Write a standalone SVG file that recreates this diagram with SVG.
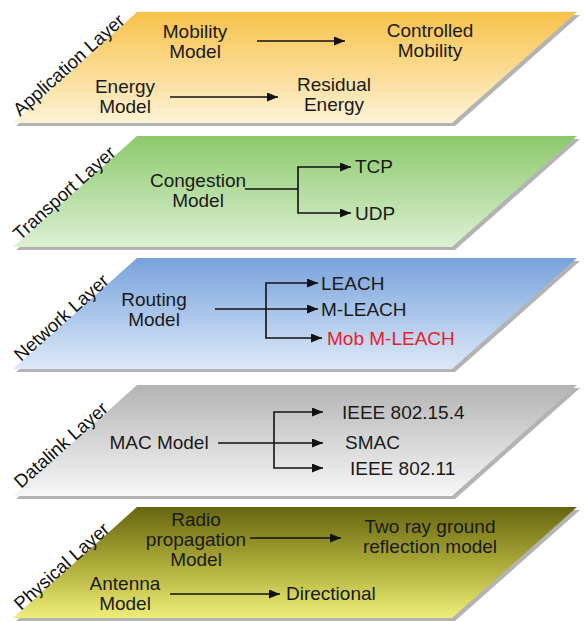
<svg xmlns="http://www.w3.org/2000/svg" width="585" height="621" viewBox="0 0 585 621">
<defs>
<style>
text{font-family:"Liberation Sans",Arial,sans-serif;font-size:19px;fill:#1a1a1a}
.c{text-anchor:middle}
.lbl{font-size:18.5px;fill:#111}
.red{fill:#e8202a}
.ln{stroke:#111;stroke-width:1.6;fill:none}
.ar{marker-end:url(#ah)}
.shadow{fill:#b3b3b3}
</style>
<marker id="ah" markerUnits="userSpaceOnUse" markerWidth="11" markerHeight="9" refX="11" refY="4.5" orient="auto"><path d="M0,0 L11,4.5 L0,9 Z" fill="#111"/></marker>
<path id="plane" d="M124,0 H564 L439,111 H0 Z"/>
<linearGradient id="gApp" x1="0" y1="0" x2="0" y2="1"><stop offset="0" stop-color="#f7c14a"/><stop offset="1" stop-color="#fef3d6"/></linearGradient>
<linearGradient id="gTra" x1="0" y1="0" x2="0" y2="1"><stop offset="0" stop-color="#8cc96b"/><stop offset="1" stop-color="#ddf0d3"/></linearGradient>
<linearGradient id="gNet" x1="0" y1="0" x2="0" y2="1"><stop offset="0" stop-color="#78a2dc"/><stop offset="1" stop-color="#dde9f8"/></linearGradient>
<linearGradient id="gDat" x1="0" y1="0" x2="0" y2="1"><stop offset="0" stop-color="#b4b4b4"/><stop offset="1" stop-color="#f7f7f7"/></linearGradient>
<linearGradient id="gPhy" x1="0" y1="0" x2="0" y2="1"><stop offset="0" stop-color="#666610"/><stop offset="0.5" stop-color="#aaa836"/><stop offset="1" stop-color="#eeef78"/></linearGradient>
</defs>

<g id="application-layer">
<use href="#plane" class="shadow" transform="translate(16,15)"/>
<use href="#plane" fill="url(#gApp)" transform="translate(13,12)"/>
<text class="lbl" transform="translate(20,117) rotate(-41.8)">Application Layer</text>
</g>
<g id="transport-layer">
<use href="#plane" class="shadow" transform="translate(16,139)"/>
<use href="#plane" fill="url(#gTra)" transform="translate(13,136)"/>
<text class="lbl" transform="translate(20,241) rotate(-41.8)">Transport Layer</text>
</g>
<g id="network-layer">
<use href="#plane" class="shadow" transform="translate(16,261)"/>
<use href="#plane" fill="url(#gNet)" transform="translate(13,258)"/>
<text class="lbl" transform="translate(21,362) rotate(-41.8)">Network Layer</text>
</g>
<g id="datalink-layer">
<use href="#plane" class="shadow" transform="translate(16,388)"/>
<use href="#plane" fill="url(#gDat)" transform="translate(13,385)"/>
<text class="lbl" transform="translate(21,489) rotate(-41.8)">Datalink Layer</text>
</g>
<g id="physical-layer">
<use href="#plane" class="shadow" transform="translate(16,510)"/>
<use href="#plane" fill="url(#gPhy)" transform="translate(13,507)"/>
<text class="lbl" transform="translate(21,611) rotate(-41.8)">Physical Layer</text>
</g>

<g id="connectors">
<line class="ln ar" x1="257" y1="41" x2="345" y2="41"/>
<line class="ln ar" x1="170" y1="97" x2="278" y2="97"/>
<polyline class="ln" points="245,189 298,189"/>
<polyline class="ln ar" points="298,189 298,167 351,167"/>
<polyline class="ln ar" points="298,189 298,213 351,213"/>
<line class="ln ar" x1="215" y1="309" x2="318" y2="309"/>
<polyline class="ln ar" points="266,309 266,283 318,283"/>
<polyline class="ln ar" points="266,309 266,338 322,338"/>
<line class="ln ar" x1="218" y1="443" x2="323" y2="443"/>
<polyline class="ln ar" points="274,443 274,412 323,412"/>
<polyline class="ln ar" points="274,443 274,468 323,468"/>
<line class="ln ar" x1="250" y1="538" x2="341" y2="538"/>
<line class="ln ar" x1="170" y1="594" x2="280" y2="594"/>
</g>

<g id="mobility-model"><text class="c" x="195" y="38">Mobility</text><text class="c" x="195" y="58">Model</text></g>
<g id="controlled-mobility"><text class="c" x="430" y="37">Controlled</text><text class="c" x="430" y="57">Mobility</text></g>
<g id="energy-model"><text class="c" x="125" y="93">Energy</text><text class="c" x="125" y="113">Model</text></g>
<g id="residual-energy"><text class="c" x="334" y="91">Residual</text><text class="c" x="334" y="111">Energy</text></g>

<g id="congestion-model"><text class="c" x="198" y="187">Congestion</text><text class="c" x="198" y="207">Model</text></g>
<g id="tcp"><text x="355" y="173">TCP</text></g>
<g id="udp"><text x="355" y="220">UDP</text></g>

<g id="routing-model"><text class="c" x="154" y="306">Routing</text><text class="c" x="154" y="326">Model</text></g>
<g id="leach"><text x="321" y="290">LEACH</text></g>
<g id="m-leach"><text x="321" y="316">M-LEACH</text></g>
<g id="mob-m-leach"><text class="red" x="327" y="345">Mob M-LEACH</text></g>

<g id="mac-model"><text class="c" x="159" y="449">MAC Model</text></g>
<g id="ieee-802-15-4"><text x="342" y="419">IEEE 802.15.4</text></g>
<g id="smac"><text x="345" y="449">SMAC</text></g>
<g id="ieee-802-11"><text x="350" y="475">IEEE 802.11</text></g>

<g id="radio-propagation-model"><text class="c" x="196" y="526">Radio</text><text class="c" x="196" y="546">propagation</text><text class="c" x="196" y="566">Model</text></g>
<g id="two-ray-ground"><text class="c" x="430" y="533">Two ray ground</text><text class="c" x="430" y="553">reflection model</text></g>
<g id="antenna-model"><text class="c" x="125" y="590">Antenna</text><text class="c" x="125" y="610">Model</text></g>
<g id="directional"><text x="286" y="600">Directional</text></g>
</svg>
